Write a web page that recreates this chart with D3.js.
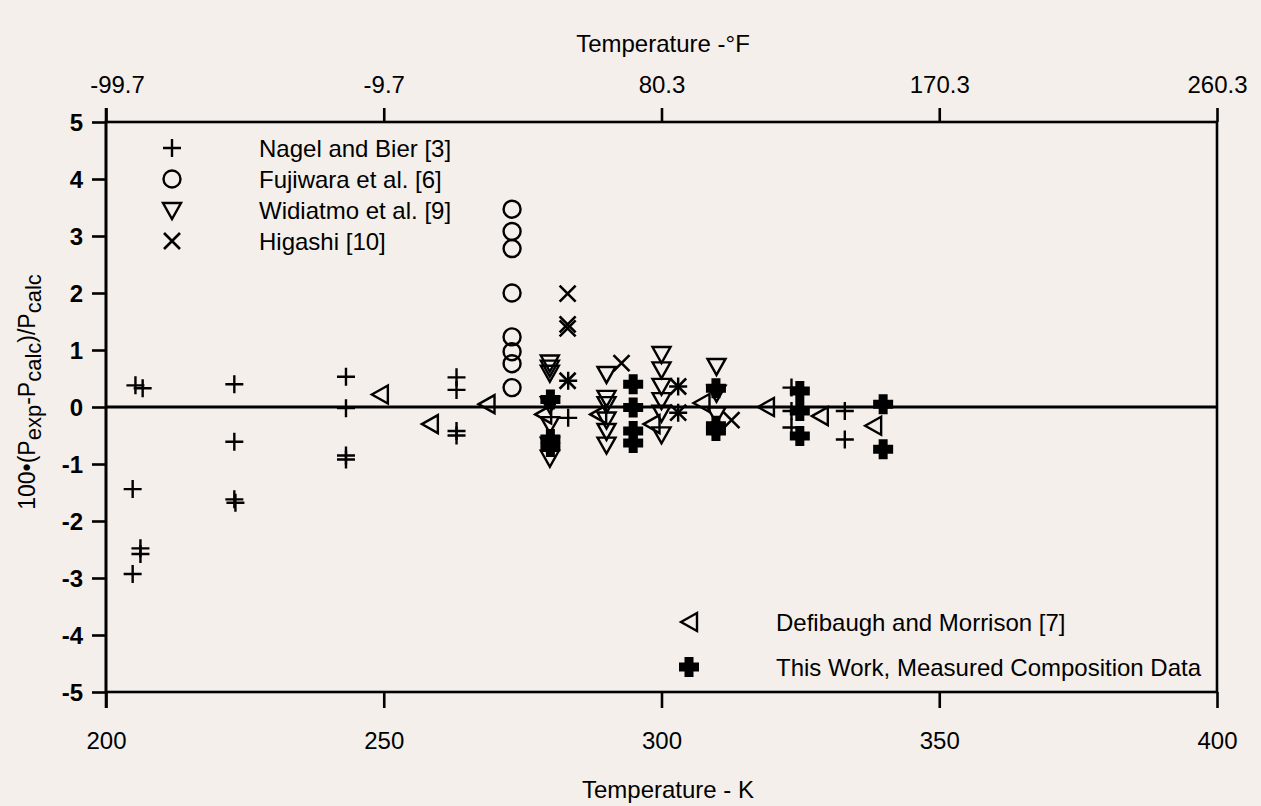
<!DOCTYPE html>
<html><head><meta charset="utf-8">
<script src="https://cdn.jsdelivr.net/npm/d3@7"></script>
<style>
body{margin:0;background:#f4efeb;}
svg{display:block;}
text{font-family:"Liberation Sans",Arial,Helvetica,sans-serif;fill:#000;}
</style></head><body>
<svg id="chart" width="1261" height="806"></svg>
<script>
// ---- data (temperature K, 100*(Pexp-Pcalc)/Pcalc) ----
const nagelBier = [[205.3,0.38],[206.6,0.33],[204.8,-1.44],[206.2,-2.48],[206.2,-2.58],[204.8,-2.93],
  [223.1,0.40],[223.1,-0.61],[223.1,-1.62],[223.3,-1.68],
  [243.2,0.53],[243.2,-0.02],[243.2,-0.85],[243.2,-0.92],
  [263.1,0.52],[263.1,0.30],[263.1,-0.42],[263.1,-0.50],
  [283.2,0.46],[283.2,-0.19],[303.0,0.36],[303.0,-0.10],
  [323.4,0.34],[323.4,-0.07],[323.4,-0.36],[333.0,-0.07],[333.0,-0.57]];
const fujiwara = [[273.1,3.47],[273.1,3.08],[273.1,2.78],[273.1,2.00],[273.1,1.23],[273.1,0.97],[273.1,0.76],[273.1,0.34]];
const widiatmo = [[279.9,0.78],[279.9,0.69],[279.9,0.60],[279.9,0.05],[279.9,-0.30],[279.9,-0.66],[279.9,-0.89],
  [290.1,0.58],[290.1,0.16],[290.1,0.05],[290.1,-0.22],[290.1,-0.42],[290.1,-0.66],
  [300.0,0.93],[300.0,0.66],[300.0,0.37],[300.0,0.12],[300.0,-0.10],[300.0,-0.48],
  [309.9,0.72],[309.9,0.25],[309.9,-0.13]];
const higashi = [[283.1,1.99],[283.1,1.45],[283.1,1.38],[283.1,0.46],[292.8,0.77],[303.0,0.36],[303.0,-0.10],[312.6,-0.23]];
const defibaugh = [[249.3,0.22],[258.3,-0.30],[268.5,0.05],[278.7,-0.13],[288.6,-0.13],[298.2,-0.30],
  [307.2,0.07],[318.8,0.0],[328.5,-0.16],[338.1,-0.33]];
const thisWork = [[280.0,0.13],[280.0,-0.56],[280.0,-0.70],
  [294.9,0.40],[294.9,-0.01],[294.9,-0.42],[294.9,-0.63],
  [309.8,0.33],[309.8,-0.33],[309.8,-0.42],
  [324.9,0.28],[324.9,-0.07],[324.9,-0.51],
  [339.9,0.05],[339.9,-0.74]];

const kTicks = [200,250,300,350,400];
const fTickLabels = ["-99.7","-9.7","80.3","170.3","260.3"];
const yTicks = [-5,-4,-3,-2,-1,0,1,2,3,4,5];
const legendTop = ["Nagel and Bier [3]","Fujiwara et al. [6]","Widiatmo et al. [9]","Higashi [10]"];
const legendBottom = ["Defibaugh and Morrison [7]","This Work, Measured Composition Data"];

// ---- layout ----
const L=106, R=1217, T=122, B=692;
const svg = d3.select("#chart");
const x = d3.scaleLinear().domain([200,400]).range([L,R]);
const y = d3.scaleLinear().domain([-5,5]).range([B,T]);

// symbol paths
const sym = {
  plus: "M-9,0H9M0,-9V9",
  circle: "M8.5,0A8.5,8.5 0 1,1 -8.5,0A8.5,8.5 0 1,1 8.5,0Z",
  down: "M-9,-7L9,-7L0,9Z",
  cross: "M-8,-8L8,8M-8,8L8,-8",
  left: "M-8,0L8,-9L8,9Z",
  fplus: "M-4.5,-10h9v5.5h5.5v9h-5.5v5.5h-9v-5.5h-5.5v-9h5.5Z"
};
function style(sel, kind){
  if(kind==="fplus") sel.attr("fill","#000").attr("stroke","none");
  else sel.attr("fill","none").attr("stroke","#000").attr("stroke-width", kind==="cross"?2.6:2.4);
}

// frame
svg.append("rect").attr("x",L).attr("y",T).attr("width",R-L).attr("height",B-T)
  .attr("fill","none").attr("stroke","#000").attr("stroke-width",2.6);

// axes
const gB = svg.append("g").attr("transform",`translate(0,${B})`)
  .call(d3.axisBottom(x).tickValues(kTicks).tickSize(16).tickSizeOuter(0).tickFormat(d=>String(d)));
gB.selectAll("text").attr("y",57).attr("dy",0);
const gT = svg.append("g").attr("transform",`translate(0,${T})`)
  .call(d3.axisTop(x).tickValues(kTicks).tickSize(14).tickSizeOuter(0).tickFormat((d,i)=>fTickLabels[i]));
gT.selectAll("text").attr("y",-29).attr("dy",0).attr("dx",(d,i)=>i===0?11:0);
const gL = svg.append("g").attr("transform",`translate(${L},0)`)
  .call(d3.axisLeft(y).tickValues(yTicks).tickSize(14).tickSizeOuter(0).tickFormat(d=>String(d)));
gL.selectAll("text").attr("x",-23).attr("dy","0.36em").attr("font-weight","bold");
[gB,gT,gL].forEach(g=>{
  g.select(".domain").remove();
  g.selectAll("line").attr("stroke","#000").attr("stroke-width",2.6);
  g.selectAll("text").attr("font-size",24).attr("fill","#000")
   .style("font-family",'"Liberation Sans",Arial,sans-serif');
});
// extend left axis line to the bottom tick
svg.append("line").attr("x1",L).attr("x2",L).attr("y1",T-14).attr("y2",B+16)
  .attr("stroke","#000").attr("stroke-width",2.6);

// zero line
svg.append("line").attr("x1",x(200)).attr("x2",x(400)).attr("y1",y(0)).attr("y2",y(0))
  .attr("stroke","#000").attr("stroke-width",3);

// axis titles
svg.append("text").attr("x",663).attr("y",52).attr("text-anchor","middle").attr("font-size",24)
  .text("Temperature -°F");
svg.append("text").attr("x",668).attr("y",798).attr("text-anchor","middle").attr("font-size",24)
  .text("Temperature - K");
const yt = svg.append("text").attr("transform","translate(35,392) rotate(-90)")
  .attr("text-anchor","middle").attr("font-size",23);
yt.append("tspan").text("100•(P");
yt.append("tspan").attr("dy",6).attr("font-size",22).text("exp");
yt.append("tspan").attr("dy",-6).text("-P");
yt.append("tspan").attr("dy",6).attr("font-size",22).text("calc");
yt.append("tspan").attr("dy",-6).text(")/P");
yt.append("tspan").attr("dy",6).attr("font-size",22).text("calc");

// data marks
function plot(data, kind){
  const g = svg.append("g");
  g.selectAll("path").data(data).join("path")
    .attr("d",sym[kind])
    .attr("transform",d=>`translate(${x(d[0])},${y(d[1])})`)
    .call(style,kind);
}
plot(nagelBier,"plus");
plot(fujiwara,"circle");
plot(widiatmo,"down");
plot(higashi,"cross");
plot(defibaugh,"left");
plot(thisWork,"fplus");

// legends
const topKinds = ["plus","circle","down","cross"];
legendTop.forEach((t,i)=>{
  const cy = 148 + i*31;
  svg.append("path").attr("d",sym[topKinds[i]]).attr("transform",`translate(172,${cy})`).call(style,topKinds[i]);
  svg.append("text").attr("x",259).attr("y",cy+8.5).attr("font-size",24).text(t);
});
const botKinds = ["left","fplus"];
legendBottom.forEach((t,i)=>{
  const cy = 622 + i*45;
  svg.append("path").attr("d",sym[botKinds[i]]).attr("transform",`translate(689,${cy})`).call(style,botKinds[i]);
  svg.append("text").attr("x",776).attr("y",cy+8.5).attr("font-size",24).text(t);
});
</script>
</body></html>
